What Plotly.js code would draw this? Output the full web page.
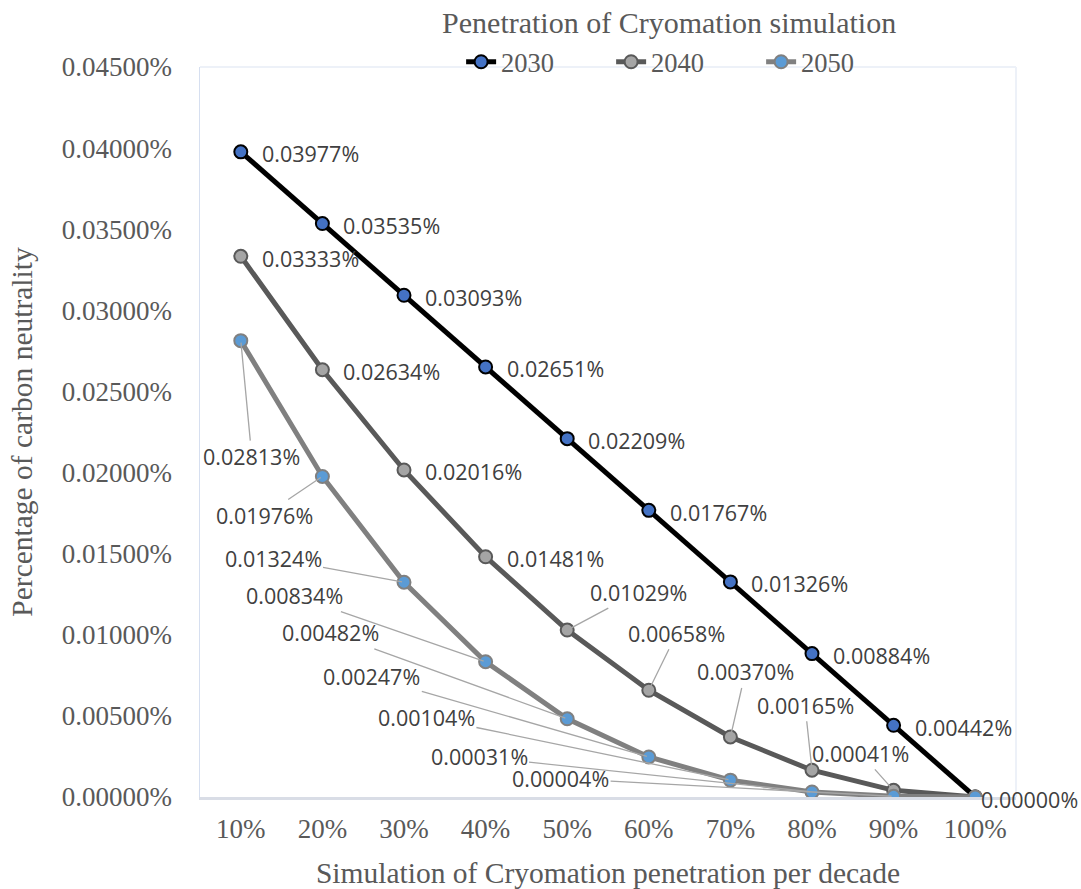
<!DOCTYPE html>
<html>
<head>
<meta charset="utf-8">
<script src="https://cdn.plot.ly/plotly-3.0.1.min.js"></script>
<style>
html,body{margin:0;padding:0;background:#fff;}
#chart{width:1081px;height:889px;}
</style>
</head>
<body>
<div id="chart"></div>
<script>
// ---- data ----
const categories = ['10%','20%','30%','40%','50%','60%','70%','80%','90%','100%'];
const seriesNames = ['2030','2040','2050'];
const v2030 = [0.03977,0.03535,0.03093,0.02651,0.02209,0.01767,0.01326,0.00884,0.00442,0.00000];
const v2040 = [0.03333,0.02634,0.02016,0.01481,0.01029,0.00658,0.00370,0.00165,0.00041,0.00000];
const v2050 = [0.02813,0.01976,0.01324,0.00834,0.00482,0.00247,0.00104,0.00031,0.00004,0.00000];
const yTicks = [0,0.005,0.01,0.015,0.02,0.025,0.03,0.035,0.04,0.045];
const yTickText = yTicks.map(v => v.toFixed(5) + '%');

// ---- styles ----
const serif = 'Liberation Serif, serif';
const sans = 'Open Sans, sans-serif';
const tickColor = '#595959';
const labelColor = '#404040';

const traces = [
  {name:seriesNames[0], x:categories, y:v2030, type:'scatter', mode:'lines+markers',
   line:{color:'#000000', width:5},
   marker:{size:13, color:'#4472C4', line:{color:'#000000', width:2}}},
  {name:seriesNames[1], x:categories, y:v2040, type:'scatter', mode:'lines+markers',
   line:{color:'#595959', width:5},
   marker:{size:13, color:'#A5A5A5', line:{color:'#595959', width:2}}},
  {name:seriesNames[2], x:categories, y:v2050, type:'scatter', mode:'lines+markers',
   line:{color:'#808080', width:5},
   marker:{size:13, color:'#5B9BD5', line:{color:'#808080', width:2}}}
];

// label placement (pixel offsets); 'R' = to the right of point, null = no label
const place2030 = ['R','R','R','R','R','R','R','R','R',{xs:4}];
const place2040 = ['R','R','R','R',[71,-38],[28,-57],[15,-65],[-7,-65],[-33,-37],null];
const place2050 = [[11,116],[-58,39],[-131,-24],[-191,-66],[-237,-86],[-277,-80],[-304,-63],[-333,-35],[-333,-18],null];

const annotations = [];
function addLabels(vals, places){
  vals.forEach((v,i)=>{
    const p = places[i];
    if(p===null) return;
    const txt = v.toFixed(5)+'%';
    const base = {x:categories[i], y:v, xref:'x', yref:'y', text:txt,
      font:{family:sans, size:21.5, color:labelColor}};
    if(p==='R'){
      annotations.push(Object.assign(base,{showarrow:false, xanchor:'left', yanchor:'middle', xshift:19, yshift:-2}));
    } else if(!Array.isArray(p)){
      annotations.push(Object.assign(base,{showarrow:false, xanchor:'left', yanchor:'middle', xshift:p.xs, yshift:-2}));
    } else {
      annotations.push(Object.assign(base,{showarrow:true, ax:p[0], ay:p[1], axref:'pixel', ayref:'pixel',
        arrowhead:0, arrowwidth:1.3, arrowcolor:'#a6a6a6', standoff:2, startstandoff:0}));
    }
  });
}
addLabels(v2030, place2030);
addLabels(v2040, place2040);
addLabels(v2050, place2050);

const layout = {
  width:1081, height:889,
  margin:{l:200, r:65, t:67, b:92},
  paper_bgcolor:'#ffffff', plot_bgcolor:'#ffffff',
  showlegend:true,
  title:{text:'Penetration of Cryomation simulation', x:0.619, xref:'container', xanchor:'center',
         y:0.975, yref:'container', yanchor:'middle',
         font:{family:serif, size:30, color:tickColor}},
  legend:{orientation:'h', x:0.32, xanchor:'left', y:1.0068, yanchor:'middle',
          font:{family:serif, size:26.5, color:tickColor}, entrywidth:105, entrywidthmode:'pixels',
          bgcolor:'rgba(0,0,0,0)'},
  xaxis:{type:'category', range:[-0.5,9.5], showgrid:false, zeroline:false,
         showline:true, linecolor:'#d9dde6', linewidth:2.5,
         ticks:'', ticklabelstandoff:6,
         tickfont:{family:serif, size:27, color:tickColor},
         title:{text:'Simulation of Cryomation penetration per decade', standoff:21,
                font:{family:serif, size:29.5, color:tickColor}}},
  yaxis:{range:[0,0.045], tickmode:'array', tickvals:yTicks, ticktext:yTickText,
         showgrid:false, zeroline:false, showline:true, linecolor:'#d6dff0', linewidth:1.5,
         ticks:'', ticklabelstandoff:21,
         tickfont:{family:serif, size:27, color:tickColor},
         title:{text:'Percentage of carbon neutrality', standoff:20,
                font:{family:serif, size:29.5, color:tickColor}}},
  shapes:[
    {type:'line', xref:'paper', yref:'paper', x0:0, x1:1, y0:1, y1:1, line:{color:'#edf1f8', width:2}},
    {type:'line', xref:'paper', yref:'paper', x0:1, x1:1, y0:0, y1:1, line:{color:'#edf1f8', width:2}}
  ],
  annotations:annotations
};

Plotly.newPlot('chart', traces, layout, {displayModeBar:false, staticPlot:true});
</script>
</body>
</html>
